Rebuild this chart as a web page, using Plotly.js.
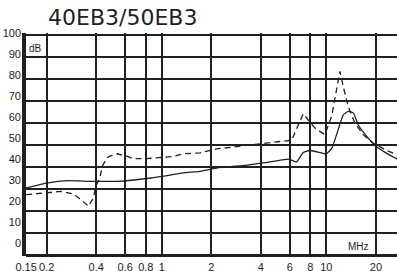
<!DOCTYPE html>
<html>
<head>
<meta charset="utf-8">
<script src="https://cdn.plot.ly/plotly-3.0.1.min.js"></script>
<style>
html,body{margin:0;padding:0;overflow:hidden;background:#fff;}
#chart{width:420px;height:271px;}
</style>
</head>
<body>
<div id="chart"></div>
<script>
// Insertion loss curves (frequency in MHz, loss in dB)
const solidFreq = [0.15, 0.2, 0.27, 0.37, 0.54, 0.86, 1.0, 1.35, 1.7, 2.15, 3.4, 5.2, 5.9, 6.6, 7.2, 7.9, 8.9, 10, 10.8, 11.8, 12.7, 13.6, 14.6, 15.6, 17.6, 20, 23, 27, 30];
const solidLoss = [30.5, 32.7, 33.8, 33.5, 33.5, 35, 35.7, 37.3, 38, 39.5, 41, 43, 43.6, 42.3, 46.4, 47.5, 46.8, 46, 48.6, 57, 63.8, 65.3, 64.5, 59.2, 53.9, 49.4, 46.4, 43.6, 42];

const dashFreq = [0.15, 0.21, 0.243, 0.293, 0.325, 0.35, 0.358, 0.384, 0.397, 0.421, 0.435, 0.463, 0.478, 0.537, 0.617, 0.671, 0.81, 1.17, 1.35, 1.71, 2.15, 3.43, 5.22, 6.15, 7.23, 8.52, 9.8, 10.76, 11.54, 12.09, 12.66, 13.58, 14.9, 16.74, 19.25, 22.7, 26.7, 30];
const dashLoss = [27.4, 28.5, 28.9, 27.7, 25.1, 22.9, 22.1, 25.9, 31.2, 35, 40.3, 44, 44.8, 46, 44.8, 43.8, 43.8, 44.8, 46, 46.4, 48.2, 50.1, 51.6, 52.1, 64.2, 57.7, 54.7, 63, 75.1, 83.5, 76.6, 67.5, 60, 54.7, 50.9, 47.9, 45.6, 44];

const xTickVals = [0.15, 0.2, 0.4, 0.6, 0.8, 1, 2, 4, 6, 8, 10, 20, 30];
const xTickText = ["0.15", "0.2", "0.4", "0.6", "0.8", "1", "2", "4", "6", "8", "10", "20", "30"];
const yTickVals = [0, 10, 20, 30, 40, 50, 60, 70, 80, 90, 100];
const yTickText = ["0", "10", "20", "30", "40", "50", "60", "70", "80", "90", "100"];

const ink = '#231f20';

const traces = [
  {x: solidFreq, y: solidLoss, type: 'scatter', mode: 'lines',
   line: {color: ink, width: 1.3, shape: 'spline', smoothing: 0.5}, hoverinfo: 'skip'},
  {x: dashFreq, y: dashLoss, type: 'scatter', mode: 'lines',
   line: {color: ink, width: 1.3, dash: '6px,4px'}, hoverinfo: 'skip'},
  {x: [null], y: [null], yaxis: 'y2', type: 'scatter', mode: 'lines', hoverinfo: 'skip'}
];

const layout = {
  width: 420, height: 271,
  margin: {l: 26, r: 15, t: 33, b: 15},
  paper_bgcolor: '#fff', plot_bgcolor: 'rgba(0,0,0,0)',
  showlegend: false,
  title: {text: '40EB3/50EB3', x: 48/420, xanchor: 'left', xref: 'container',
          y: 1 - 17/271, yanchor: 'middle', yref: 'container',
          font: {family: 'DejaVu Sans', size: 22, color: ink}},
  xaxis: {type: 'log', range: [Math.log10(0.1497), Math.log10(30.05)],
          tickmode: 'array', tickvals: xTickVals, ticktext: xTickText,
          showgrid: true, gridcolor: ink, gridwidth: 2,
          showline: false, zeroline: false, ticks: '', automargin: false,
          ticklabelstandoff: 3,
          tickfont: {family: 'Liberation Sans', size: 11, color: '#222'}},
  yaxis: {range: [-0.4545, 100.91], tickmode: 'array', tickvals: yTickVals,
          showticklabels: false, showgrid: true, gridcolor: ink, gridwidth: 2,
          zeroline: true, zerolinecolor: ink, zerolinewidth: 3,
          showline: true, linecolor: ink, linewidth: 4, ticks: '', automargin: false},
  yaxis2: {overlaying: 'y', side: 'left', range: [-6.05, 100.14],
           tickmode: 'array', tickvals: yTickVals, ticktext: yTickText,
           showgrid: false, zeroline: false, showline: false, ticks: '', automargin: false,
           ticklabelstandoff: 4,
           tickfont: {family: 'Liberation Sans', size: 11, color: '#222'}},
  annotations: [
    {text: 'dB', xref: 'paper', yref: 'paper', x: 0.0026, y: 0.9305, xanchor: 'left', yanchor: 'middle',
     showarrow: false, font: {family: 'Liberation Sans', size: 10, color: ink}},
    {text: 'MHz', xref: 'paper', yref: 'paper', x: 0.876, y: 0.0404, xanchor: 'center', yanchor: 'middle',
     showarrow: false, font: {family: 'Liberation Sans', size: 10, color: ink}}
  ]
};

Plotly.newPlot('chart', traces, layout, {staticPlot: true, displayModeBar: false});
</script>
</body>
</html>
